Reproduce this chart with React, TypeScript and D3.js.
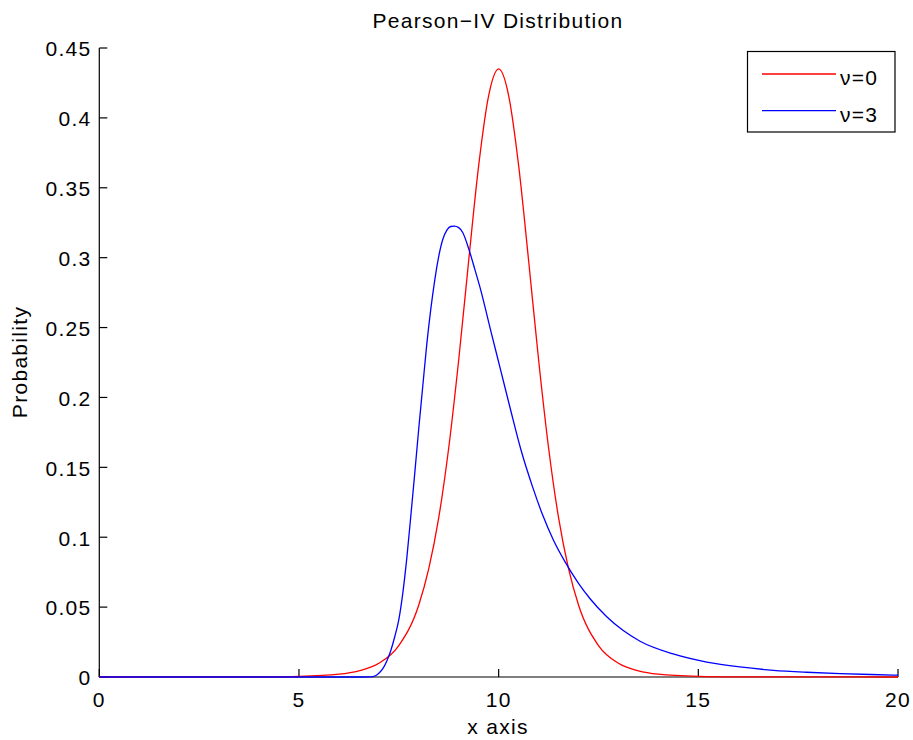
import React from "react";
import * as d3 from "d3";

const redX = [0, 1, 2, 3, 4, 5, 6, 6.5, 7, 7.5, 8, 8.25, 8.5, 8.75, 9, 9.25, 9.5, 9.75, 10, 10.25, 10.5, 10.75, 11, 11.25, 11.5, 11.75, 12, 12.5, 13, 13.5, 14, 15, 16, 17, 18, 19, 20];
const redY = [0.00001, 0.00002, 0.00004, 0.00008, 0.00015, 0.0005, 0.002, 0.0044, 0.0098, 0.0225, 0.0515, 0.0775, 0.114, 0.164, 0.227, 0.298, 0.366, 0.416, 0.435, 0.416, 0.366, 0.298, 0.227, 0.164, 0.114, 0.0775, 0.0515, 0.0225, 0.0098, 0.0044, 0.002, 0.0005, 0.00015, 0.00008, 0.00004, 0.00002, 0.00001];

const blueX = [0, 2, 4, 6, 6.6, 6.8, 6.9, 7.0, 7.1, 7.2, 7.3, 7.4, 7.5, 7.6, 7.7, 7.8, 7.9, 8.0, 8.1, 8.2, 8.3, 8.4, 8.5, 8.6, 8.7, 8.8, 8.89, 9.0, 9.1, 9.26, 9.4, 9.55, 9.8, 10.05, 10.3, 10.56, 10.85, 11.1, 11.37, 11.66, 12.0, 12.29, 12.7, 13.12, 13.54, 14.37, 15.21, 16.04, 16.88, 17.71, 18.55, 19.88, 20];
const blueY = [0, 0, 0, 0, 0, 0.0001, 0.0007, 0.0027, 0.006, 0.0115, 0.019, 0.029, 0.041, 0.06, 0.085, 0.115, 0.146, 0.178, 0.208, 0.238, 0.263, 0.284, 0.301, 0.313, 0.3195, 0.3223, 0.3226, 0.3215, 0.318, 0.3055, 0.292, 0.277, 0.248, 0.2196, 0.191, 0.1624, 0.136, 0.116, 0.098, 0.0825, 0.067, 0.056, 0.0433, 0.0332, 0.0256, 0.0165, 0.0107, 0.0072, 0.0048, 0.0034, 0.0024, 0.0014, 0.0013];

const xTicks = [0, 5, 10, 15, 20];
const yTicks = [0, 0.05, 0.1, 0.15, 0.2, 0.25, 0.3, 0.35, 0.4, 0.45];
const seriesNames = ["\u03bd=0", "\u03bd=3"];
const seriesColors = ["#ff0000", "#0000ff"];

const titleText = "Pearson\u2212IV Distribution";
const xLabel = "x axis";
const yLabel = "Probability";

export default function App() {
  const W = 913, H = 740;
  const x = d3.scaleLinear().domain([0, 20]).range([99.3, 898]);
  const y = d3.scaleLinear().domain([0, 0.45]).range([677, 48]);
  const line = d3
    .line<[number, number]>()
    .x((d) => x(d[0]))
    .y((d) => y(d[1]))
    .curve(d3.curveMonotoneX);
  const series = [
    redX.map((v, i) => [v, redY[i]] as [number, number]),
    blueX.map((v, i) => [v, blueY[i]] as [number, number]),
  ];
  const font = "'Liberation Sans', Arial, Helvetica, sans-serif";
  const fs = 21;
  const ls = 1.3;
  const x0 = x(0), y0 = y(0);
  const tl = 8;
  return (
    <svg width={W} height={H} style={{ position: "absolute", left: 0, top: 0, background: "#fff" }} fontFamily={font}>
      <rect x={0} y={0} width={W} height={H} fill="#fff" />
      <line x1={x0} x2={x(20)} y1={y0} y2={y0} stroke="#000" strokeWidth={1.2} />
      <line x1={x0} x2={x0} y1={y(0.45)} y2={y0} stroke="#000" strokeWidth={1.2} />
      {xTicks.map((t) => (
        <g key={"xt" + t}>
          <line x1={x(t)} x2={x(t)} y1={y0} y2={y0 - tl} stroke="#000" strokeWidth={1.2} />
          <text x={x(t)} y={706.5} textAnchor="middle" fontSize={fs} letterSpacing={ls}>{t}</text>
        </g>
      ))}
      {yTicks.map((t) => (
        <g key={"yt" + t}>
          <line x1={x0} x2={x0 + tl} y1={y(t)} y2={y(t)} stroke="#000" strokeWidth={1.2} />
          <text x={91.5} y={y(t) + 8.3} textAnchor="end" fontSize={fs} letterSpacing={ls}>{String(t)}</text>
        </g>
      ))}
      {series.map((s, i) => (
        <path key={"s" + i} d={line(s) || ""} fill="none" stroke={seriesColors[i]} strokeWidth={1.3} />
      ))}
      <text x={498} y={28} textAnchor="middle" fontSize={fs} letterSpacing={ls}>{titleText}</text>
      <text x={498} y={734} textAnchor="middle" fontSize={fs} letterSpacing={ls}>{xLabel}</text>
      <text transform={`translate(27,362) rotate(-90)`} textAnchor="middle" fontSize={fs} letterSpacing={ls}>{yLabel}</text>
      <rect x={747.5} y={51.5} width={147.5} height={80.5} fill="#fff" stroke="#000" strokeWidth={1.2} />
      {seriesNames.map((n, i) => (
        <g key={"lg" + i}>
          <line x1={762} x2={836} y1={74 + i * 36.7} y2={74 + i * 36.7} stroke={seriesColors[i]} strokeWidth={1.3} />
          <text x={840} y={85 + i * 36.7} fontSize={fs} letterSpacing={ls}>{n}</text>
        </g>
      ))}
    </svg>
  );
}
